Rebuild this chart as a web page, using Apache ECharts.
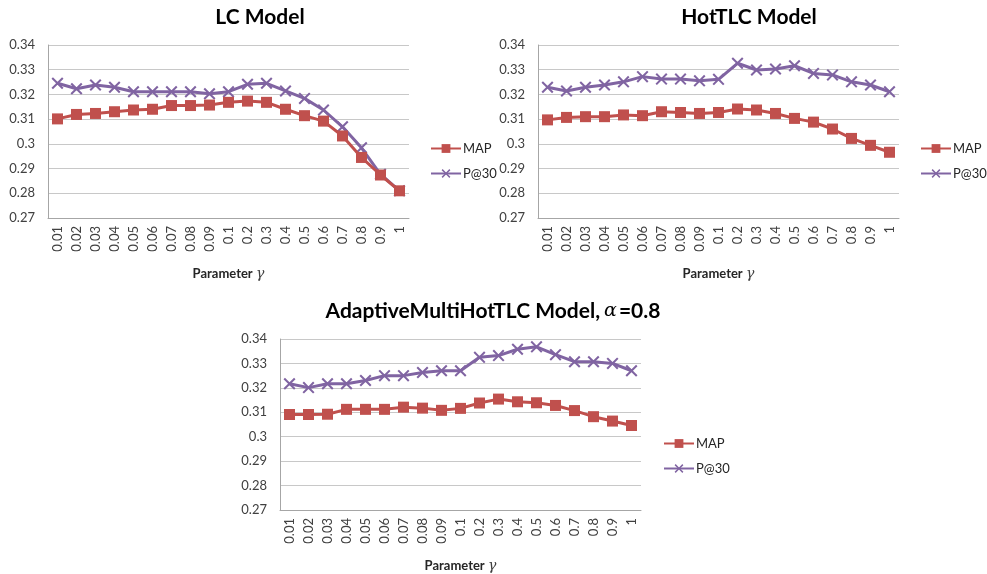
<!DOCTYPE html>
<html>
<head>
<meta charset="utf-8">
<script src="https://cdn.jsdelivr.net/npm/echarts@6/dist/echarts.min.js"></script>
<style>
html,body{margin:0;padding:0;background:#fff;}
#chart{width:987px;height:574px;}
</style>
</head>
<body>
<div id="chart"></div>
<script>
const categories = ['0.01','0.02','0.03','0.04','0.05','0.06','0.07','0.08','0.09','0.1','0.2','0.3','0.4','0.5','0.6','0.7','0.8','0.9','1'];
const yTicks = [0.27, 0.28, 0.29, 0.30, 0.31, 0.32, 0.33, 0.34];

const lcMAP = [0.3101,0.3119,0.3123,0.3130,0.3137,0.3140,0.3155,0.3155,0.3157,0.3168,0.3173,0.3168,0.3140,0.3114,0.3092,0.3032,0.2945,0.2874,0.2810];
const lcP30 = [0.3245,0.3223,0.3238,0.3229,0.3211,0.3211,0.3211,0.3211,0.3203,0.3211,0.3241,0.3245,0.3214,0.3184,0.3137,0.3069,0.2984,0.2877,0.2810];

const hotMAP = [0.3097,0.3107,0.3110,0.3110,0.3117,0.3114,0.3130,0.3127,0.3123,0.3127,0.3141,0.3137,0.3123,0.3103,0.3088,0.3060,0.3022,0.2994,0.2966];
const hotP30 = [0.3229,0.3214,0.3229,0.3238,0.3251,0.3272,0.3262,0.3262,0.3255,0.3261,0.3326,0.3299,0.3303,0.3316,0.3285,0.3279,0.3251,0.3238,0.3211];

const adaMAP = [0.3091,0.3091,0.3092,0.3112,0.3112,0.3112,0.3121,0.3117,0.3108,0.3116,0.3138,0.3154,0.3143,0.3139,0.3128,0.3107,0.3082,0.3064,0.3046];
const adaP30 = [0.3217,0.3201,0.3217,0.3217,0.3230,0.3250,0.3250,0.3263,0.3270,0.3270,0.3325,0.3332,0.3358,0.3368,0.3336,0.3307,0.3307,0.3300,0.3270];

const FONT = 'Lato, "Open Sans", sans-serif';
const RED = '#C0504D';
const PURPLE = '#8064A2';
const X_SYMBOL = 'path://M0,1.2L1.2,0L5,3.8L8.8,0L10,1.2L6.2,5L10,8.8L8.8,10L5,6.2L1.2,10L0,8.8L3.8,5Z';

const grids = [
  {left: 48, top: 45, width: 361, height: 173},
  {left: 538, top: 45, width: 361, height: 173},
  {left: 280, top: 339, width: 361, height: 176}
];

function xAxisFor(i) {
  return {
    type: 'category', gridIndex: i, data: categories, boundaryGap: true,
    axisLine: {show: true, lineStyle: {color: '#a6a6a6', width: 1}},
    axisTick: {show: false},
    axisLabel: {rotate: 90, fontFamily: FONT, fontSize: 13, color: '#404040', margin: 8},
    name: '{b|Parameter} {g|γ}', nameLocation: 'middle', nameGap: 49,
    nameTextStyle: {rich: {
      b: {fontFamily: FONT, fontWeight: 'bold', fontSize: 13, color: '#262626'},
      g: {fontFamily: '"DejaVu Serif", serif', fontStyle: 'italic', fontWeight: 'normal', fontSize: 14, color: '#404040'}
    }}
  };
}
function yAxisFor(i) {
  return {
    type: 'value', gridIndex: i, min: yTicks[0], max: yTicks[yTicks.length - 1], interval: 0.01,
    axisLine: {show: true, lineStyle: {color: '#a6a6a6', width: 1}},
    axisTick: {show: false},
    splitLine: {show: true, lineStyle: {color: '#c8c8c8', width: 1}},
    axisLabel: {fontFamily: FONT, fontSize: 13, color: '#404040', margin: 13,
      formatter: v => String(Math.round(v * 100) / 100)}
  };
}
function mapSeries(i, data) {
  return {name: 'MAP', type: 'line', xAxisIndex: i, yAxisIndex: i, data: data,
    symbol: 'rect', symbolSize: 11, lineStyle: {color: RED, width: 3},
    itemStyle: {color: RED}, color: RED, z: 3, animation: false};
}
function p30Series(i, data) {
  return {name: 'P@30', type: 'line', xAxisIndex: i, yAxisIndex: i, data: data,
    symbol: X_SYMBOL, symbolSize: 12, lineStyle: {color: PURPLE, width: 3},
    itemStyle: {color: PURPLE}, color: PURPLE, z: 2, animation: false};
}
function legendAt(left, top) {
  return {orient: 'vertical', left: left, top: top, padding: 0, itemWidth: 30, itemHeight: 11, itemGap: 12,
    data: ['MAP', 'P@30'], selectedMode: false,
    textStyle: {fontFamily: FONT, fontSize: 13, color: '#262626', padding: [0, 0, 0, -3]}};
}
const titleStyle = {fontFamily: FONT, fontWeight: 'bold', fontSize: 21, color: '#000'};

const chart = echarts.init(document.getElementById('chart'), null, {renderer: 'canvas'});
chart.setOption({
  backgroundColor: '#ffffff',
  animation: false,
  title: [
    {text: 'LC Model', left: 255, top: 2, textAlign: 'center', textStyle: titleStyle},
    {text: 'HotTLC Model', left: 744, top: 2, textAlign: 'center', textStyle: titleStyle},
    {text: '{t|AdaptiveMultiHotTLC Model,}{a|α}{t|=0.8}', left: 488, top: 296, textAlign: 'center',
      textStyle: {fontWeight: 'normal', rich: {
        t: {fontFamily: FONT, fontWeight: 'bold', fontSize: 21, color: '#000'},
        a: {fontFamily: '"DejaVu Serif", serif', fontStyle: 'italic', fontWeight: 'normal', fontSize: 19, color: '#000', padding: [0, 2, 0, 4]}
      }}}
  ],
  legend: [legendAt(430, 142), legendAt(920, 142), legendAt(663, 437)],
  grid: grids,
  xAxis: [xAxisFor(0), xAxisFor(1), xAxisFor(2)],
  yAxis: [yAxisFor(0), yAxisFor(1), yAxisFor(2)],
  series: [
    mapSeries(0, lcMAP), p30Series(0, lcP30),
    mapSeries(1, hotMAP), p30Series(1, hotP30),
    mapSeries(2, adaMAP), p30Series(2, adaP30)
  ]
});
</script>
</body>
</html>
